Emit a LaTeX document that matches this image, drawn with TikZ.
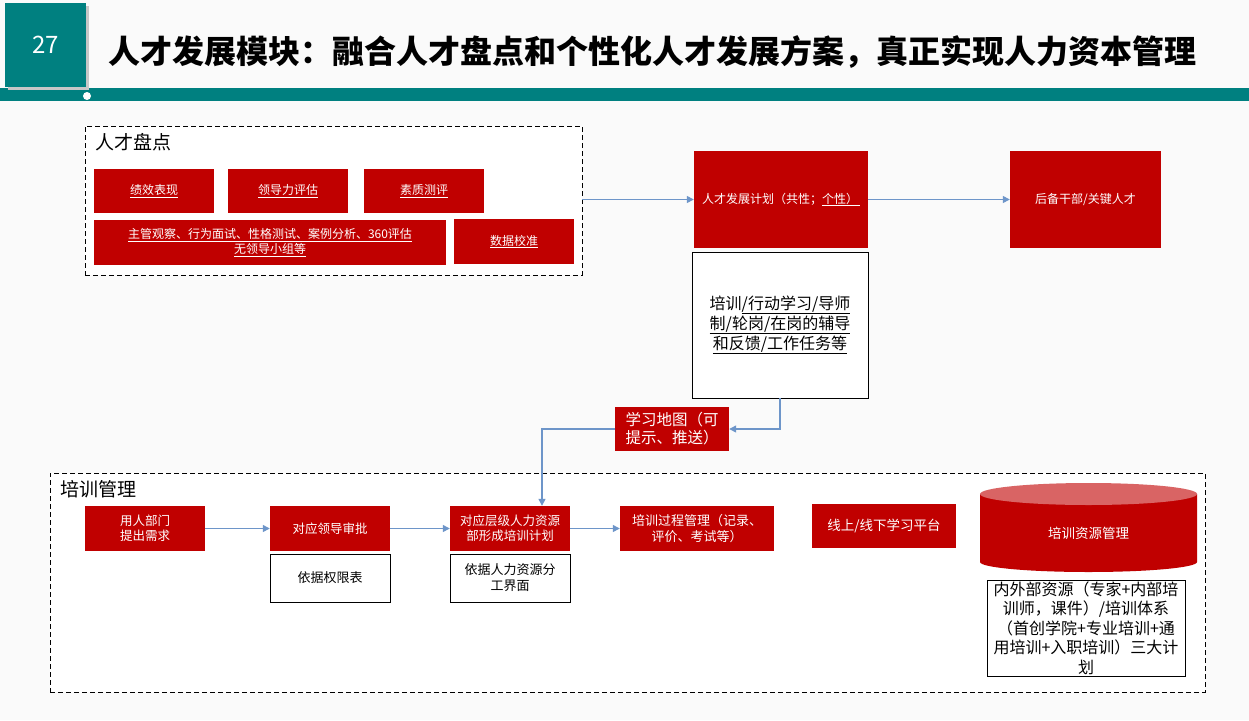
\documentclass[tikz,border=0pt]{standalone}
\usepackage{fontspec}
\setmainfont{Noto Sans CJK SC}
\usetikzlibrary{arrows.meta}
\definecolor{bg}{HTML}{FAFAFA}
\definecolor{teal0}{HTML}{008080}
\definecolor{red0}{HTML}{C00000}
\definecolor{redtop}{HTML}{D96464}
\definecolor{arr}{HTML}{6D95C9}
\begin{document}
\begin{tikzpicture}[x=1pt,y=-1pt,
  redbox/.style={fill=red0, text=white, align=center, inner sep=0pt, font=\fontsize{12}{15}\selectfont},
  whitebox/.style={draw=black, line width=0.9pt, fill=white, text=black, align=center, inner sep=0pt},
  dbox/.style={draw=black, line width=0.9pt, dash pattern=on 5pt off 3pt, fill=white, inner sep=0pt},
  grouplabel/.style={anchor=west, inner sep=0pt, font=\fontsize{19}{22}\selectfont},
  conn/.style={draw=arr, line width=1.3pt, -{Triangle[length=7pt,width=7pt]}}]
\useasboundingbox (0,0) rectangle (1249,720);
\fill[bg] (0,0) rectangle (1249,720);
% header
\fill[teal0] (0,88) rectangle (1249,101);
\fill[black!22] (8,6) rectangle (89,90);
\node[fill=teal0, minimum width=81pt, minimum height=84pt, inner sep=0pt, text=white, font=\fontsize{24}{28}\selectfont] (num) at (45.5,45) {27};
\fill[white] (87,96) circle (4pt);
\node[anchor=west, inner sep=0pt, font=\bfseries\fontsize{32}{36}\selectfont] (title) at (108,52) {人才发展模块：融合人才盘点和个性化人才发展方案，真正实现人力资本管理};

% talent review group
\node[dbox, minimum width=497pt, minimum height=149pt] (pd) at (333.5,200.5) {};
\node[grouplabel] (pdl) at (95,142) {人才盘点};
\node[redbox, minimum width=120pt, minimum height=44pt] (jx) at (154,191) {\underline{绩效表现}};
\node[redbox, minimum width=120pt, minimum height=44pt] (ld) at (288,191) {\underline{领导力评估}};
\node[redbox, minimum width=120pt, minimum height=44pt] (sz) at (424,191) {\underline{素质测评}};
\node[redbox, minimum width=352pt, minimum height=45pt] (zg) at (270,242.5) {\underline{主管观察、行为面试、性格测试、案例分析、360评估}\\\underline{无领导小组等}};
\node[redbox, minimum width=120pt, minimum height=45pt] (sj) at (514,241.5) {\underline{数据校准}};

% development plan
\node[redbox, minimum width=174pt, minimum height=97pt] (fz) at (781,199.5) {人才发展计划（共性；\underline{个性）\,}};
\node[redbox, minimum width=151pt, minimum height=97pt] (hb) at (1085.5,199.5) {后备干部/关键人才};
\node[whitebox, minimum width=176pt, minimum height=146pt, font=\fontsize{16}{20}\selectfont] (pr) at (780,325) {培训\underline{/行动学习/导师}\\\underline{制/轮岗/在岗的辅导}\\\underline{和反馈/工作任务等}};
\node[redbox, minimum width=114pt, minimum height=44pt, font=\fontsize{15.5}{18}\selectfont] (map) at (672,429) {学习地图（可\\提示、推送）};

% training management group
\node[dbox, minimum width=1155pt, minimum height=219pt] (px) at (627.5,582.5) {};
\node[grouplabel] (pxl) at (60,489) {培训管理};
\node[redbox, minimum width=120pt, minimum height=45pt, font=\fontsize{12.5}{15}\selectfont] (need) at (145,528.5) {用人部门\\提出需求};
\node[redbox, minimum width=120pt, minimum height=45pt, font=\fontsize{12.5}{15}\selectfont] (appr) at (330,528.5) {对应领导审批};
\node[whitebox, minimum width=120pt, minimum height=48pt, font=\fontsize{13}{16}\selectfont] (qx) at (330,578) {依据权限表};
\node[redbox, minimum width=120pt, minimum height=45pt, font=\fontsize{12.5}{15}\selectfont] (plan) at (510,528.5) {对应层级人力资源\\部形成培训计划};
\node[whitebox, minimum width=120pt, minimum height=48pt, font=\fontsize{13}{16}\selectfont] (fg) at (510,578) {依据人力资源分\\工界面};
\node[redbox, minimum width=154pt, minimum height=45pt, font=\fontsize{13}{16}\selectfont] (proc) at (697,528.5) {培训过程管理（记录、\\评价、考试等）};
\node[redbox, minimum width=144pt, minimum height=44pt, font=\fontsize{13.5}{16}\selectfont] (plat) at (884,526) {线上/线下学习平台};
% cylinder
\fill[red0] (980,494) -- (980,562) arc[start angle=180, end angle=360, x radius=108.5pt, y radius=10pt] -- (1197,494) -- cycle;
\fill[redtop] (1088.5,494) ellipse[x radius=108.5pt, y radius=11pt];
\node[text=white, inner sep=0pt, font=\fontsize{13.5}{16}\selectfont] (res) at (1088.5,533) {培训资源管理};
\node[whitebox, minimum width=198pt, minimum height=96pt, font=\fontsize{16}{19.5}\selectfont] (resb) at (1086,628) {内外部资源（专家+内部培\\训师，课件）/培训体系\\（首创学院+专业培训+通\\用培训+入职培训）三大计\\划};

% connectors
\draw[conn] (pd.east |- fz.west) -- (fz.west);
\draw[conn] (fz.east) -- (hb.west);
\draw[conn] (pr.south) |- (map.east);
\draw[conn] (map.west) -| ([xshift=32pt]plan.north);
\draw[conn] (need.east) -- (appr.west);
\draw[conn] (appr.east) -- (plan.west);
\draw[conn] (plan.east) -- (proc.west);
\end{tikzpicture}
\end{document}
